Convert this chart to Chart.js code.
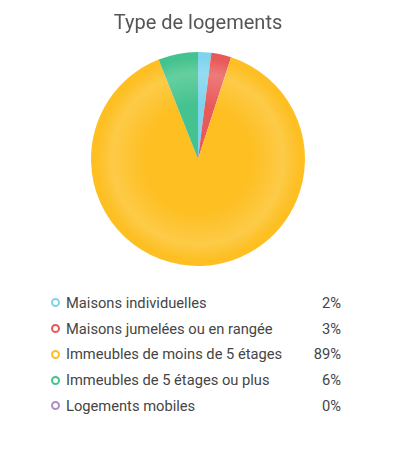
<!DOCTYPE html>
<html><head><meta charset="utf-8">
<script src="https://cdn.jsdelivr.net/npm/chart.js@4"></script>
<style>
html,body{margin:0;padding:0;background:#fff;width:396px;height:453px;overflow:hidden;font-family:Roboto,"Open Sans",sans-serif;}
#wrap{position:absolute;left:0;top:0;width:396px;height:276px;}
#legend{position:absolute;left:51px;top:290px;width:290px;font-size:14.7px;color:#454545;}
.row{display:flex;align-items:center;height:25.75px;}
.dot{width:5px;height:5px;border-radius:50%;border:2px solid;margin-right:6px;background:#fff;flex:none;}
.lab{flex:1;}
.val{text-align:right;}
</style></head><body>
<div id="wrap"><canvas id="c" width="396" height="276"></canvas></div>
<div id="legend"></div>
<script>
const categories = ["Maisons individuelles","Maisons jumelées ou en rangée","Immeubles de moins de 5 étages","Immeubles de 5 étages ou plus","Logements mobiles"];
const values = [2, 3, 89, 6, 0];
const colors = ["#7fd3ee","#e8595a","#fdbf22","#44c28f","#b18dc5"];
const lightColors = ["#95dcf2","#ee7a7a","#fdcb48","#66cf9f","#c4a6d4"];

const legend = document.getElementById('legend');
categories.forEach((c,i)=>{
  const r=document.createElement('div');r.className='row';
  r.innerHTML='<span class="dot" style="border-color:'+colors[i]+'"></span><span class="lab">'+c+'</span><span class="val">'+values[i]+'%</span>';
  legend.appendChild(r);
});

function bg(ctx){
  const chart=ctx.chart;const a=chart.chartArea;const i=ctx.dataIndex;
  if(!a) return colors[i];
  const cx=(a.left+a.right)/2, cy=(a.top+a.bottom)/2;
  const r=Math.min(a.right-a.left,a.bottom-a.top)/2;
  const g=chart.ctx.createRadialGradient(cx,cy,0,cx,cy,r);
  g.addColorStop(0,colors[i]);
  g.addColorStop(0.5,colors[i]);
  g.addColorStop(0.8,lightColors[i]);
  g.addColorStop(0.95,colors[i]);
  g.addColorStop(1,colors[i]);
  return g;
}

new Chart(document.getElementById('c'),{
  type:'pie',
  data:{labels:categories,datasets:[{data:values,backgroundColor:bg,borderWidth:0,hoverOffset:0}]},
  options:{
    responsive:false,animation:false,
    layout:{padding:{top:10,bottom:10}},
    plugins:{
      legend:{display:false},tooltip:{enabled:false},
      title:{display:true,text:'Type de logements',color:'#555',font:{family:'Roboto',size:20,weight:'normal'},padding:{top:2,bottom:16}}
    }
  }
});
</script>
</body></html>
